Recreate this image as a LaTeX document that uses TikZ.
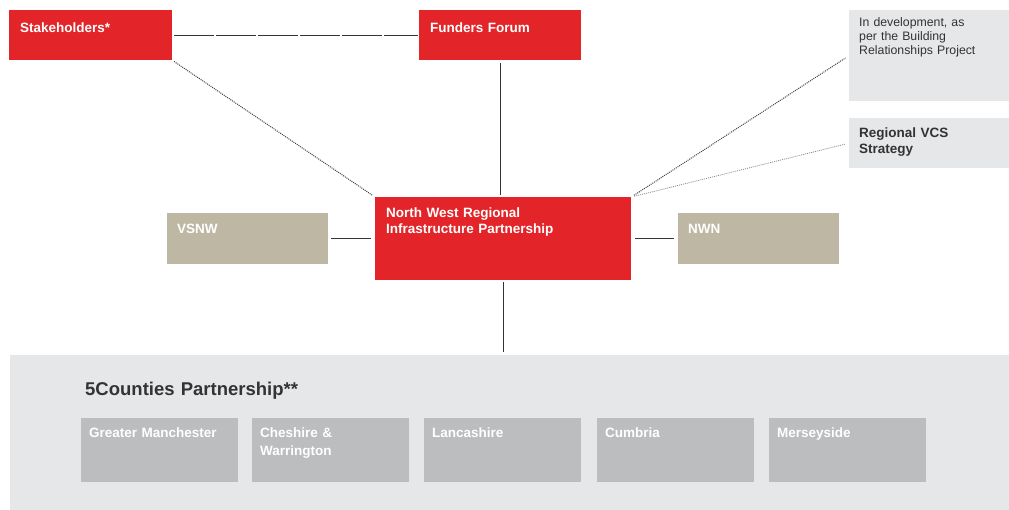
\documentclass[tikz,border=0pt]{standalone}
\usepackage{fontspec}
\setmainfont{Liberation Sans}
\definecolor{nwred}{HTML}{E3252A}
\definecolor{taupe}{HTML}{BDB7A4}
\definecolor{pale}{HTML}{E6E7E8}
\definecolor{county}{HTML}{BCBDBF}
\definecolor{ink}{HTML}{333333}
\begin{document}
\begin{tikzpicture}[x=1pt, y=-1pt,
	box/.style={anchor=north west, inner ysep=0pt, align=left, font=\fontsize{13.5}{16}\selectfont\bfseries, text=white},
	redbox/.style={box, fill=nwred, inner xsep=11pt, text width=140pt, text height=22pt, text depth=28pt},
	taupebox/.style={box, fill=taupe, inner xsep=10pt, text width=141pt, text height=20pt, text depth=31pt},
	sidebox/.style={box, fill=pale, inner xsep=10pt, text width=140pt, text=ink},
	countybox/.style={box, fill=county, inner xsep=8pt, text width=141pt, text height=19pt, text depth=45pt, font=\fontsize{13.5}{18}\selectfont\bfseries},
	link/.style={line width=1.1pt, black!80},
	dotlink/.style={line width=1pt, densely dotted, black!75}]
	\useasboundingbox (0,0) rectangle (1009,510);

	% top row
	\draw (9,10) node (stake) [redbox, text width=141pt] {Stakeholders*};
	\draw (419,10) node (funders) [redbox] {Funders Forum};

	% middle row
	\draw (375,197) node (nwrip) [redbox, text width=234pt, text height=20pt, text depth=63pt] {North West Regional\\Infrastructure Partnership};
	\draw (167,213) node (vsnw) [taupebox] {VSNW};
	\draw (678,213) node (nwn) [taupebox] {NWN};

	% side notes
	\draw (849,10) node (dev) [sidebox, text height=16pt, text depth=75pt, font=\fontsize{12.3}{14}\selectfont] {In development, as\\per the Building\\Relationships Project};
	\draw (849,118) node (vcs) [sidebox, text height=19pt, text depth=31pt] {Regional VCS\\Strategy};

	% 5 counties
	\draw (10,355) node (five) [box, fill=pale, inner xsep=75pt, text width=849pt, text height=40pt, text depth=115pt, text=ink, font=\fontsize{18.5}{22}\selectfont\bfseries] {5Counties Partnership**};
	\draw (81,418) node (gm) [countybox] {Greater Manchester};
	\draw (252,418) node (cw) [countybox] {Cheshire \&\\Warrington};
	\draw (424,418) node (lanc) [countybox] {Lancashire};
	\draw (597,418) node (cumb) [countybox] {Cumbria};
	\draw (769,418) node (mers) [countybox] {Merseyside};

	% connectors
	\draw[link, dash pattern=on 40pt off 2pt, shorten <=2pt, shorten >=1pt] (stake.east) -- (funders.west);
	\draw[link, shorten <=3pt, shorten >=2pt] (funders.south) -- (funders.south |- nwrip.north);
	\draw[link, shorten <=3pt, shorten >=4pt] (vsnw.east) -- (nwrip.west);
	\draw[link, shorten <=4pt, shorten >=4pt] (nwrip.east) -- (nwn.west);
	\draw[link, shorten <=2pt, shorten >=3pt] (nwrip.south) -- (nwrip.south |- five.north);
	\draw[dotlink, shorten <=2pt, shorten >=3pt] (stake.south east) -- (nwrip.north west);
	\draw[dotlink, shorten <=3pt, shorten >=4pt] (nwrip.north east) -- (dev.west);
	\draw[dotlink, black!45, line width=0.8pt, shorten <=3pt, shorten >=4pt] (nwrip.north east) -- (vcs.west);
\end{tikzpicture}
\end{document}
